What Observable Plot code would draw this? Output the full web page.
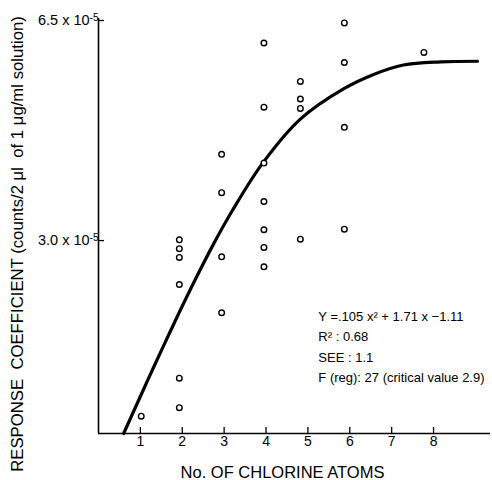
<!DOCTYPE html>
<html>
<head>
<meta charset="utf-8">
<script src="https://cdn.jsdelivr.net/npm/d3@7"></script>
<script src="https://cdn.jsdelivr.net/npm/@observablehq/plot@0.6"></script>
<style>
  body { margin: 0; background: #fff; }
</style>
</head>
<body>
<div id="chart"></div>
<script>
// Observed points (No. of chlorine atoms, response coefficient ×10^-5)
const pointX = [1.02,
  1.93, 1.93, 1.93, 1.93, 1.93, 1.93,
  2.94, 2.94, 2.94, 2.94,
  3.95, 3.95, 3.95, 3.95, 3.95, 3.95, 3.95,
  4.82, 4.82, 4.82, 4.82,
  5.87, 5.87, 5.87, 5.87,
  7.77];
const pointY = [0.175,
  2.98, 2.84, 2.70, 2.27, 0.78, 0.31,
  4.34, 3.73, 2.71, 1.82,
  6.11, 5.09, 4.20, 3.59, 3.14, 2.86, 2.55,
  5.50, 5.22, 5.07, 2.99,
  6.43, 5.80, 4.77, 3.15,
  5.96];

// Fitted curve as drawn
const curveX = [0.60, 0.81, 1.17, 1.55, 1.91, 2.32, 2.72, 3.20, 3.92, 4.82, 5.85, 6.57, 7.28, 8.17, 9.05];
const curveY = [-0.10, 0.21, 0.74, 1.29, 1.80, 2.36, 2.88, 3.45, 4.20, 4.90, 5.38, 5.61, 5.76, 5.81, 5.82];

const xTicks = [1, 2, 3, 4, 5, 6, 7, 8];
const yTicks = [3.0, 6.5];
const yTickLabels = ["3.0 x 10", "6.5 x 10"];
const yTickExponent = "-5";

const annotations = [
  "Y =.105 x² + 1.71 x −1.11",
  "R² : 0.68",
  "SEE : 1.1",
  "F (reg): 27 (critical value 2.9)"
];
const xLabel = "No. OF CHLORINE ATOMS";
const yLabel = "RESPONSE  COEFFICIENT (counts/2 μl  of 1 μg/ml solution)";

const points = pointX.map((x, i) => ({x, y: pointY[i]}));
const curve = curveX.map((x, i) => ({x, y: curveY[i]}));

const plot = Plot.plot({
  width: 492,
  height: 480,
  marginLeft: 98,
  marginRight: 2,
  marginTop: 18,
  marginBottom: 47,
  x: {domain: [0, 9.36]},
  y: {domain: [-0.1, 6.5]},
  style: {fontFamily: "'Liberation Sans', Arial, sans-serif", background: "white", color: "black"},
  marks: [
    Plot.ruleX([0], {y1: -0.1, y2: 6.5, strokeWidth: 1.6}),
    Plot.ruleY([-0.1], {x1: 0, x2: 9.36, strokeWidth: 1.6}),
    Plot.axisX({ticks: xTicks, tickSize: -6, tickPadding: 9, fontSize: 14, label: null,
      tickFormat: d => String(d), strokeWidth: 1.3}),
    Plot.axisY({ticks: yTicks, tickSize: -6, tickPadding: 6, fontSize: 14.5, label: null,
      tickFormat: d => yTickLabels[yTicks.indexOf(d)], dy: 2, strokeWidth: 1.3, className: "ytl"}),
    Plot.line(curve, {x: "x", y: "y", curve: "catmull-rom", strokeWidth: 3.2, stroke: "black"}),
    Plot.dot(points, {x: "x", y: "y", r: 2.8, fill: "white", stroke: "black", strokeWidth: 1.4}),
    Plot.text(annotations, {x: 5.25, y: (d, i) => 1.76 - 0.325 * i, textAnchor: "start", fontSize: 13}),
    Plot.text([xLabel], {frameAnchor: "bottom", dy: 39, dx: -12, fontSize: 16.5, lineAnchor: "middle", textAnchor: "middle"}),
    Plot.text([yLabel], {frameAnchor: "left", dx: -81, dy: 18, rotate: -90, fontSize: 14,
      textAnchor: "middle", lineAnchor: "middle", className: "ylab"})
  ]
});
document.getElementById("chart").appendChild(plot);

// superscript exponent on the y tick labels
d3.select(plot).selectAll("text").each(function() {
  const t = this.textContent;
  if (yTickLabels.includes(t)) {
    d3.select(this).append("tspan")
      .attr("dy", "-0.45em")
      .attr("font-size", "10")
      .text(yTickExponent);
  }
});

// fit the rotated y label to the length it has in the reference
const yl = plot.querySelector(".ylab text");
if (yl) {
  const len = yl.getComputedTextLength();
  if (len > 0) yl.setAttribute("font-size", (14 * 456 / len).toFixed(2));
}
</script>
</body>
</html>
